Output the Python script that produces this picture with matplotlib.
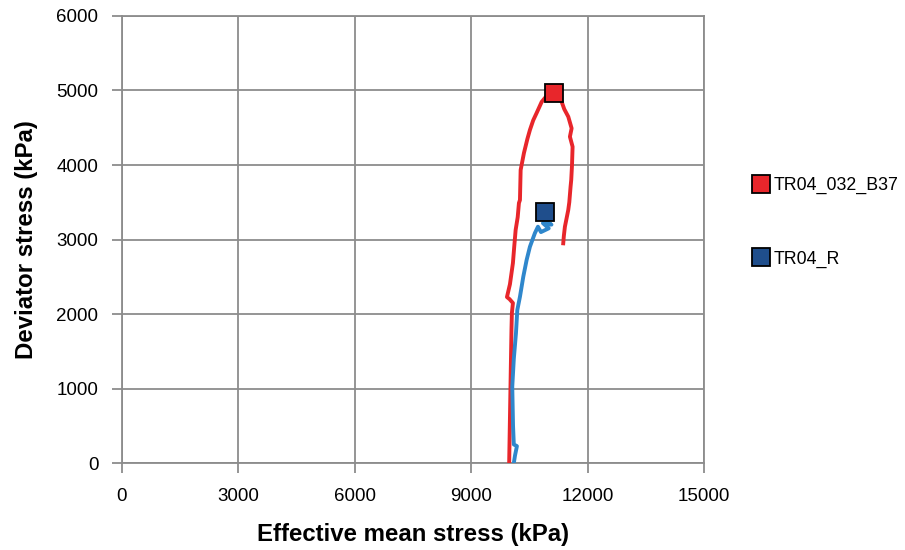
import matplotlib
matplotlib.use("Agg")
import matplotlib.pyplot as plt
from matplotlib.lines import Line2D

plt.rcParams['font.family'] = ['Liberation Sans', 'DejaVu Sans']

# stress path of specimen TR04_032_B37 (p', q in kPa)
red_p = [9980, 9990, 10000, 10010, 10020, 10030, 10040, 10050, 10077, 9990, 9923,
         10000, 10077, 10110, 10147, 10200, 10232, 10258, 10276, 10361, 10450,
         10515, 10600, 10688, 10817, 10950, 11134, 11250, 11332, 11400, 11504,
         11590, 11546, 11615, 11600, 11580, 11563, 11530, 11503, 11417, 11390, 11374]
red_q = [0, 300, 600, 900, 1200, 1500, 1800, 2013, 2148, 2200, 2228,
         2400, 2685, 2900, 3128, 3300, 3490, 3530, 3933, 4161, 4350,
         4470, 4600, 4698, 4846, 4930, 4970, 4920, 4850, 4750, 4648,
         4492, 4380, 4245, 4000, 3800, 3709, 3500, 3396, 3172, 3050, 2949]

# stress path of specimen TR04_R
blue_p = [10100, 10130, 10180, 10100, 10080, 10060, 10100, 10155, 10190, 10258,
          10344, 10430, 10515, 10644, 10722, 10800, 11000, 10850, 11070, 10900]
blue_q = [0, 100, 228, 250, 500, 1025, 1400, 1740, 2054, 2232,
          2501, 2725, 2903, 3087, 3172, 3100, 3150, 3220, 3200, 3250]

# peak points
peak_p = [11134, 10902]
peak_q = [4970, 3373]
labels = ['TR04_032_B37', 'TR04_R']
line_colors = ['#e8262b', '#2f87cc']
marker_colors = ['#e8262b', '#1f4e8c']

fig = plt.figure(figsize=(9.05, 5.5), dpi=100)
ax = fig.add_axes([0.1348, 0.158, 0.643, 0.813])

ax.plot(red_p, red_q, color=line_colors[0], lw=2.8, zorder=3)
ax.plot(blue_p, blue_q, color=line_colors[1], lw=2.8, zorder=3)
for i in range(2):
    ax.plot(peak_p[i], peak_q[i], 's', ms=13, mfc=marker_colors[i], mec='black',
            mew=1.3, zorder=4)

ax.set_xlim(0, 15000)
ax.set_ylim(0, 6000)
ax.set_xticks(range(0, 15001, 3000))
ax.set_yticks(range(0, 6001, 1000))
ax.grid(True, color='#8c8c8c', lw=1.3)
ax.set_axisbelow(True)
for s in ax.spines.values():
    s.set_color('#8c8c8c')
    s.set_linewidth(1.3)
ax.tick_params(direction='out', length=7, width=1.3, color='#8c8c8c',
               labelsize=13.5, pad=11)
ax.tick_params(axis='y', pad=10)

ax.set_xlabel('Effective mean stress (kPa)', fontsize=17.3, fontweight='bold', labelpad=13)
ax.set_ylabel('Deviator stress (kPa)', fontsize=17.3, fontweight='bold', labelpad=13)

handles = [Line2D([], [], ls='', marker='s', ms=12.5, mfc=marker_colors[i],
                  mec='black', mew=1.3) for i in range(2)]
fig.legend(handles, labels, loc='upper left', bbox_to_anchor=(0.813, 0.707),
           frameon=False, fontsize=12.8, labelspacing=3.15, handletextpad=0.25,
           handlelength=1.0)

fig.savefig('out.png', dpi=100)
